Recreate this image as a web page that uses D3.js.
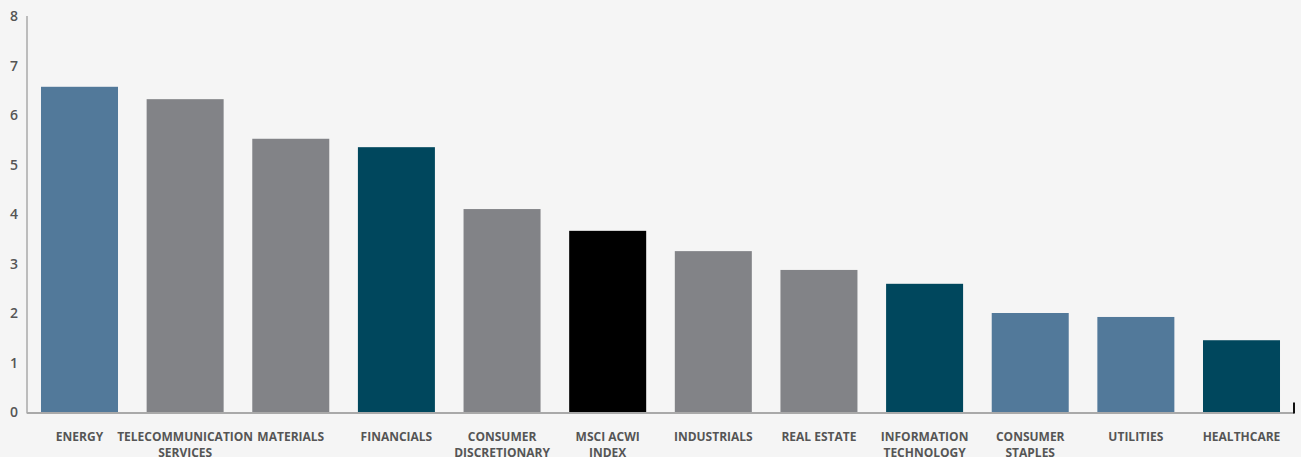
<!DOCTYPE html>
<html>
<head>
<meta charset="utf-8">
<script src="https://cdn.jsdelivr.net/npm/d3@7"></script>
<style>
  html, body { margin: 0; padding: 0; background: #f5f5f5; }
  svg { display: block; }
</style>
</head>
<body>
<svg id="chart" width="1301" height="457"></svg>
<script>
const categories = ["ENERGY", "TELECOMMUNICATION\nSERVICES", "MATERIALS", "FINANCIALS", "CONSUMER\nDISCRETIONARY", "MSCI ACWI\nINDEX", "INDUSTRIALS", "REAL ESTATE", "INFORMATION\nTECHNOLOGY", "CONSUMER\nSTAPLES", "UTILITIES", "HEALTHCARE"];
const values = [6.58, 6.33, 5.53, 5.36, 4.11, 3.67, 3.26, 2.88, 2.60, 2.01, 1.93, 1.46];
const colorGroups = ["blue", "gray", "gray", "teal", "gray", "black", "gray", "gray", "teal", "blue", "blue", "teal"];
const yTicks = [0, 1, 2, 3, 4, 5, 6, 7, 8];

const palette = { blue: "#52799a", gray: "#828387", teal: "#00475d", black: "#000000" };

const svg = d3.select("#chart");
const x0 = 27, x1 = 1294, yBottom = 412.5, yTop = 16.5;

const x = d3.scaleBand().domain(categories).range([x0, x1]).paddingInner(0.271).paddingOuter(0.1325);
const y = d3.scaleLinear().domain([0, 8]).range([yBottom, yTop]);

svg.append("rect").attr("width", 1301).attr("height", 457).attr("fill", "#f5f5f5");

// bars
svg.append("g").selectAll("rect").data(categories).join("rect")
  .attr("x", d => x(d))
  .attr("width", x.bandwidth())
  .attr("y", (d, i) => y(values[i]))
  .attr("height", (d, i) => y(0) - y(values[i]))
  .attr("fill", (d, i) => palette[colorGroups[i]]);

// y axis
const yAxis = d3.axisLeft(y).tickValues(yTicks).tickSize(0).tickPadding(9).tickFormat(d3.format("d"));
const gy = svg.append("g").attr("transform", `translate(${x0},0)`).call(yAxis);
gy.select(".domain").attr("stroke", "#a9a9a9").attr("stroke-width", 1.5).attr("d", `M0,${yTop - 0.5}V${yBottom + 1}`);
gy.selectAll("text").attr("fill", "#555").style("font-family", "'Open Sans', sans-serif").style("font-size", "14px").style("font-weight", "600");

// x axis
const xAxis = d3.axisBottom(x).tickSize(0).tickPadding(0).tickFormat("");
const gx = svg.append("g").attr("transform", `translate(0,${yBottom + 0.5})`).call(xAxis);
gx.select(".domain").attr("stroke", "#a9a9a9").attr("stroke-width", 2).attr("d", `M${x0},0H${x1}`);
gx.selectAll(".tick").each(function(d) {
  const lines = d.split("\n");
  const t = d3.select(this).append("text")
    .attr("fill", "#555")
    .attr("text-anchor", "middle")
    .style("font-family", "'Open Sans', sans-serif")
    .style("font-size", "12px")
    .style("font-weight", "700");
  lines.forEach((l, i) => t.append("tspan").attr("x", 0).attr("y", 28 + i * 16).text(l));
});

// end tick
svg.append("line").attr("x1", x1).attr("x2", x1).attr("y1", yBottom - 10).attr("y2", yBottom + 1)
  .attr("stroke", "#111").attr("stroke-width", 2);
</script>
</body>
</html>
